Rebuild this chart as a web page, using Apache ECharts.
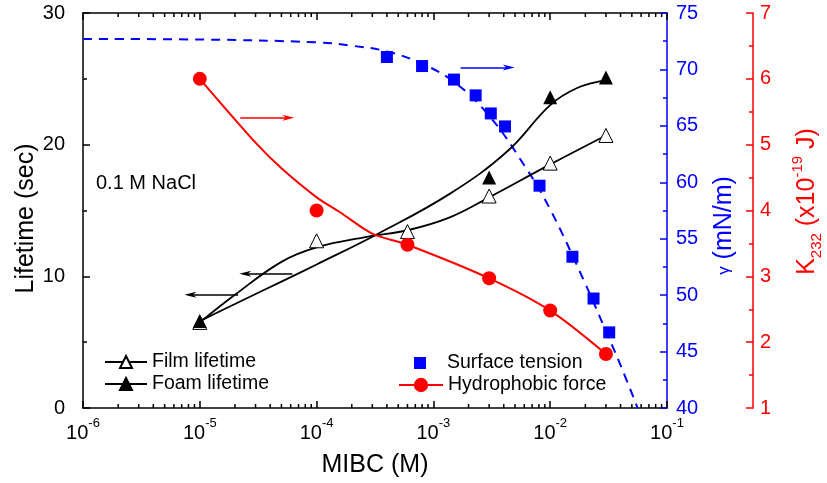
<!DOCTYPE html>
<html><head><meta charset="utf-8">
<script src="https://cdn.jsdelivr.net/npm/echarts@6/dist/echarts.min.js"></script>
<style>html,body{margin:0;padding:0;background:#fff}#c{width:827px;height:483px}</style>
</head><body><div id="c"></div>
<script>
const FONT = '"Liberation Sans", Arial, sans-serif';
// ---- data ----
const filmX = [1e-5, 1e-4, 6e-4, 3e-3, 1e-2, 3e-2];
const filmY = [6.5, 12.7, 13.4, 16.1, 18.6, 20.7];
const foamX = [1e-5, 3e-3, 1e-2, 3e-2];
const foamY = [6.6, 17.5, 23.6, 25.1];
const tensionX = [4e-4, 8e-4, 1.5e-3, 2.3e-3, 3.1e-3, 4.1e-3, 8.1e-3, 1.55e-2, 2.35e-2, 3.2e-2];
const tensionY = [71.1, 70.3, 69.1, 67.7, 66.1, 64.95, 59.7, 53.4, 49.7, 46.7];
const forceX = [1e-5, 1e-4, 6e-4, 3e-3, 1e-2, 3e-2];
const forceY = [6.0, 4.0, 3.48, 2.97, 2.48, 1.82];
// fitted curves drawn in the figure
const filmFitX = [1e-5, 2e-5, 5e-5, 1e-4, 2.7e-4, 6e-4, 1.4e-3, 3e-3, 1e-2, 3e-2];
const filmFitY = [6.5, 8.6, 11.1, 12.2, 13.0, 13.5, 14.5, 16.0, 18.5, 20.7];
const foamFitX = [1e-5, 2e-5, 5e-5, 1e-4, 3.3e-4, 1.4e-3, 4.3e-3, 1e-2, 1.7e-2, 3e-2];
const foamFitY = [6.6, 7.9, 9.6, 10.9, 13.2, 16.3, 19.5, 23.0, 24.3, 24.9];
const tensionFitX = [1e-6, 1e-5, 1e-4, 2e-4, 4e-4, 8e-4, 1.5e-3, 3e-3, 6e-3, 1e-2, 2e-2, 3e-2, 4e-2, 5.6e-2];
const tensionFitY = [72.7, 72.65, 72.4, 72.1, 71.6, 70.5, 68.9, 65.9, 61.5, 57.6, 51.0, 46.8, 43.8, 40.0];
const forceFitX = [1e-5, 3e-5, 5e-5, 1e-4, 1.6e-4, 3e-4, 6e-4, 3e-3, 1e-2, 3e-2];
const forceFitY = [6.0, 5.03, 4.64, 4.2, 3.97, 3.65, 3.48, 2.97, 2.48, 1.82];
// annotation arrows [x1, y1, x2, y2] (tail -> head)
const blackArrows = [[6.2e-5, 10.2, 2.45e-5, 10.2], [2.13e-5, 8.6, 8.3e-6, 8.6]];
const redArrow = [2.22e-5, 5.41, 5.73e-5, 5.41];
const blueArrow = [1.71e-3, 70.17, 4.42e-3, 70.17];
// axes
const xDecades = [-6, -5, -4, -3, -2, -1];
const leftTicks = [0, 10, 20, 30];
const blueTicks = [40, 45, 50, 55, 60, 65, 70, 75];
const redTicks = [1, 2, 3, 4, 5, 6, 7];

const zip = (a, b) => a.map((v, i) => [v, b[i]]);
const minorTicks = [];
xDecades.slice(0, -1).forEach(d => { for (let k = 2; k <= 9; k++) minorTicks.push([k * Math.pow(10, d), 0]); });

const BLUE = '#0000ff', RED = '#ff0000', BLACK = '#000000';
const ARROW = 'path://M5,0 L10,14 L5,10 L0,14 Z';
const arrowML = (list, color) => ({
  silent: true, symbol: ['none', ARROW], symbolSize: [6, 12],
  label: { show: false }, lineStyle: { color: color, width: 1.5, type: 'solid' },
  itemStyle: { color: color },
  emphasis: { disabled: true },
  data: list.map(a => [{ coord: [a[0], a[1]], symbol: 'none' }, { coord: [a[2], a[3]], symbol: ARROW, symbolSize: [6, 12] }])
});

const chart = echarts.init(document.getElementById('c'), null, { renderer: 'canvas' });
const TITLE_FS = 25;

chart.setOption({
  animation: false,
  backgroundColor: '#fff',
  textStyle: { fontFamily: FONT },
  title: { text: '0.1 M NaCl', left: 96, top: 173, padding: 0,
    textStyle: { fontSize: 20, fontWeight: 'normal', color: BLACK, fontFamily: FONT } },
  grid: { left: 83, right: 160, top: 13, bottom: 75, containLabel: false, outerBoundsMode: 'none' },
  legend: [
    { data: ['Film lifetime', 'Foam lifetime'], orient: 'vertical', left: 104, top: 352, padding: 0,
      itemWidth: 42, itemHeight: 15, itemGap: 2, selectedMode: false,
      textStyle: { fontSize: 19.5, color: BLACK, fontFamily: FONT } },
    { data: [{ name: 'Surface tension', icon: 'rect' }], orient: 'vertical', left: 414, top: 353, padding: 0,
      itemWidth: 12, itemHeight: 12, selectedMode: false,
      textStyle: { fontSize: 19.5, color: BLACK, fontFamily: FONT, padding: [0, 0, 0, 16] } },
    { data: ['Hydrophobic force'], orient: 'vertical', left: 398, top: 375, padding: 0,
      itemWidth: 44, itemHeight: 18, selectedMode: false,
      textStyle: { fontSize: 19.5, color: BLACK, fontFamily: FONT } }
  ],
  xAxis: [
    { type: 'log', logBase: 10, min: 1e-6, max: 0.1, position: 'bottom',
      axisLine: { show: true, lineStyle: { color: BLACK, width: 1.5 } },
      axisTick: { show: true, inside: true, length: 7, lineStyle: { color: BLACK, width: 1.5 } },
      splitLine: { show: false },
      axisLabel: { margin: 9, formatter: v => '{b|10}{s|' + Math.round(Math.log10(v)) + '}',
        rich: { b: { fontSize: 20, fontFamily: FONT, color: BLACK, lineHeight: 26, verticalAlign: 'bottom' },
                s: { fontSize: 13, fontFamily: FONT, color: BLACK, lineHeight: 13, verticalAlign: 'top' } } },
      name: 'MIBC (M)', nameLocation: 'middle', nameGap: 45, nameMoveOverlap: false,
      nameTextStyle: { color: BLACK, fontSize: TITLE_FS, fontFamily: FONT } },
    { type: 'log', logBase: 10, min: 1e-6, max: 0.1, position: 'top',
      axisLine: { show: true, lineStyle: { color: BLACK, width: 1.5 } },
      axisTick: { show: true, inside: true, length: 7, lineStyle: { color: BLACK, width: 1.5 } },
      splitLine: { show: false }, axisLabel: { show: false } }
  ],
  yAxis: [
    { type: 'value', position: 'left', min: 0, max: 30, interval: 10,
      axisLine: { show: true, lineStyle: { color: BLACK, width: 1.5 } },
      axisTick: { show: true, inside: true, length: 7, lineStyle: { color: BLACK, width: 1.5 } },
      minorTick: { show: true, splitNumber: 2, length: 4, lineStyle: { color: BLACK, width: 1.5 } },
      splitLine: { show: false },
      axisLabel: { color: BLACK, fontSize: 20, fontFamily: FONT, margin: 18,
        formatter: v => leftTicks.includes(v) ? String(v) : '' },
      name: 'Lifetime (sec)', nameLocation: 'middle', nameRotate: 90, nameGap: 44, nameMoveOverlap: false,
      nameTextStyle: { color: BLACK, fontSize: TITLE_FS, fontFamily: FONT, padding: [0, 16, 0, 0] } },
    { type: 'value', position: 'right', min: 40, max: 75, interval: 5,
      axisLine: { show: true, lineStyle: { color: BLUE, width: 1.5 } },
      axisTick: { show: true, inside: true, length: 7, lineStyle: { color: BLUE, width: 1.5 } },
      minorTick: { show: true, splitNumber: 2, length: 4, lineStyle: { color: BLUE, width: 1.5 } },
      splitLine: { show: false },
      axisLabel: { color: BLUE, fontSize: 20, fontFamily: FONT, margin: 9,
        formatter: v => blueTicks.includes(v) ? String(v) : '' },
      name: '{g|\u03b3}{b| (mN/m)}', nameLocation: 'middle', nameRotate: 90, nameGap: 44, nameMoveOverlap: false,
      nameTextStyle: { color: BLUE, fontFamily: FONT, fontSize: TITLE_FS, padding: [0, 30, 0, 0],
        rich: { g: { fontSize: 17, color: BLUE, fontFamily: FONT, lineHeight: 26, verticalAlign: 'middle' },
                b: { fontSize: TITLE_FS, color: BLUE, fontFamily: FONT, lineHeight: 26, verticalAlign: 'middle' } } } },
    { type: 'value', position: 'right', offset: 86, min: 1, max: 7, interval: 1,
      axisLine: { show: true, lineStyle: { color: RED, width: 1.5 } },
      axisTick: { show: true, inside: true, length: 7, lineStyle: { color: RED, width: 1.5 } },
      minorTick: { show: true, splitNumber: 2, length: 4, lineStyle: { color: RED, width: 1.5 } },
      splitLine: { show: false },
      axisLabel: { color: RED, fontSize: 20, fontFamily: FONT, margin: 7,
        formatter: v => redTicks.includes(v) ? String(v) : '' },
      name: '{b|K}{sub|232}{b| (x10}{sup|-19}{b| J)}', nameLocation: 'middle', nameRotate: 90, nameGap: 37, nameMoveOverlap: false,
      nameTextStyle: { color: RED, fontFamily: FONT, fontSize: TITLE_FS, padding: [0, 0, 0, 18],
        rich: {
          b: { fontSize: TITLE_FS, color: RED, fontFamily: FONT, lineHeight: 34, verticalAlign: 'middle' },
          sub: { fontSize: 15, color: RED, fontFamily: FONT, lineHeight: 15, verticalAlign: 'bottom' },
          sup: { fontSize: 15, color: RED, fontFamily: FONT, lineHeight: 15, verticalAlign: 'top' } } } }
  ],
  series: [
    { type: 'custom', name: 'minor ticks', xAxisIndex: 0, yAxisIndex: 0, silent: true, clip: false, z: 1,
      data: minorTicks, encode: { x: 0, y: 1 },
      renderItem: (params, api) => {
        const x = api.value(0);
        const pb = api.coord([x, 0]);
        const pt = api.coord([x, 30]);
        return { type: 'group', children: [
          { type: 'line', shape: { x1: pb[0], y1: pb[1], x2: pb[0], y2: pb[1] - 4 }, style: { stroke: BLACK, lineWidth: 1.5 } },
          { type: 'line', shape: { x1: pt[0], y1: pt[1], x2: pt[0], y2: pt[1] + 4 }, style: { stroke: BLACK, lineWidth: 1.5 } }
        ] };
      } },
    { type: 'line', name: 'surface tension fit', yAxisIndex: 1, data: zip(tensionFitX, tensionFitY), smooth: 0.4,
      showSymbol: false, symbol: 'none', lineStyle: { color: BLUE, width: 2, type: [9, 7] }, z: 2, silent: true,
      markLine: arrowML([blueArrow], BLUE) },
    { type: 'line', name: 'Film lifetime', yAxisIndex: 0, data: zip(filmFitX, filmFitY), smooth: 0.4,
      symbol: 'triangle', showSymbol: false, lineStyle: { color: BLACK, width: 1.8 },
      itemStyle: { color: '#fff', borderColor: BLACK, borderWidth: 1 }, z: 3, silent: true,
      markLine: arrowML(blackArrows, BLACK) },
    { type: 'line', name: 'Foam lifetime', yAxisIndex: 0, data: zip(foamFitX, foamFitY), smooth: 0.4,
      symbol: 'triangle', showSymbol: false, lineStyle: { color: BLACK, width: 1.8 },
      itemStyle: { color: BLACK, borderColor: BLACK, borderWidth: 1 }, z: 3, silent: true },
    { type: 'line', name: 'Hydrophobic force', yAxisIndex: 2, data: zip(forceFitX, forceFitY), smooth: 0.3,
      symbol: 'circle', showSymbol: false, lineStyle: { color: RED, width: 2 },
      itemStyle: { color: RED }, z: 3, silent: true, markLine: arrowML([redArrow], RED) },
    { type: 'scatter', name: 'film points', yAxisIndex: 0, data: zip(filmX, filmY), symbol: 'triangle', symbolSize: 14,
      itemStyle: { color: '#fff', borderColor: BLACK, borderWidth: 1, opacity: 1 }, z: 5 },
    { type: 'scatter', name: 'foam points', yAxisIndex: 0, data: zip(foamX, foamY), symbol: 'triangle', symbolSize: 14,
      itemStyle: { color: BLACK, opacity: 1 }, z: 5 },
    { type: 'scatter', name: 'Surface tension', yAxisIndex: 1, data: zip(tensionX, tensionY), symbol: 'rect', symbolSize: 12,
      itemStyle: { color: BLUE, opacity: 1 }, z: 5 },
    { type: 'scatter', name: 'force points', yAxisIndex: 2, data: zip(forceX, forceY), symbol: 'circle', symbolSize: 14,
      itemStyle: { color: RED, opacity: 1 }, z: 5 }
  ]
});
</script></body></html>
